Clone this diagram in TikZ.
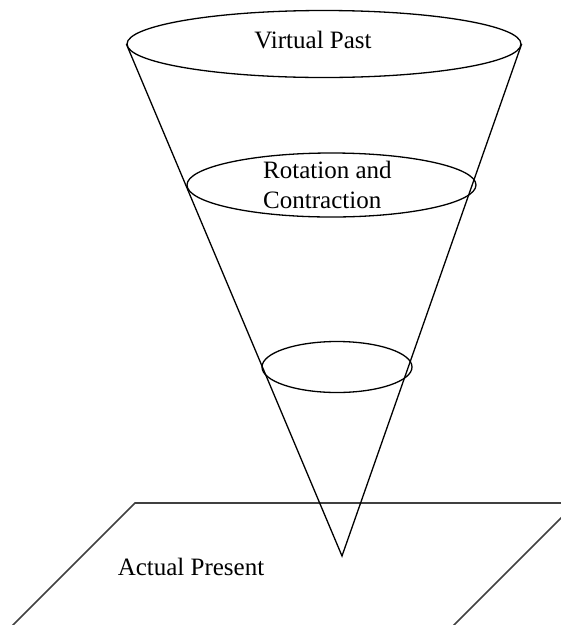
\documentclass[tikz,border=0pt]{standalone}
\usepackage{fontspec}
\setmainfont{Liberation Serif}
\usetikzlibrary{shapes.geometric}
\begin{document}
\begin{tikzpicture}[x=1pt,y=-1pt,
  line/.style={draw=black,line width=1.3pt},
  plane/.style={draw=black!75,line width=1.6pt},
  disc/.style={ellipse,line,inner sep=0pt,fill=none},
  label/.style={font=\fontsize{25}{30}\selectfont,inner sep=0pt,align=left}]
  \useasboundingbox (0,0) rectangle (561,625);
  \clip (0,0) rectangle (561,625);

  % the plane of the present
  \coordinate (pnw) at (135,503);
  \coordinate (pne) at (576,503);
  \coordinate (psw) at (10,628);
  \coordinate (pse) at (451,628);
  \draw[plane] (psw) -- (pnw) -- (pne) -- (pse);
  \node[label] (present) at (191,567) {Actual Present};

  % the cone of memory
  \coordinate (tip) at (342,556);
  \node[disc,minimum width=394pt,minimum height=67pt] (past) at (324,44) {};
  \node[disc,minimum width=289pt,minimum height=64pt] (mid) at (331.5,185) {};
  \node[disc,minimum width=150pt,minimum height=51pt] (low) at (337,367) {};
  \draw[line] (past.west) -- (tip) -- (past.east);

  \node[label] (pastlabel) at (313,40) {Virtual Past};
  \node[label,anchor=west] (midlabel) at (263,185) {Rotation and\\Contraction};
\end{tikzpicture}
\end{document}
